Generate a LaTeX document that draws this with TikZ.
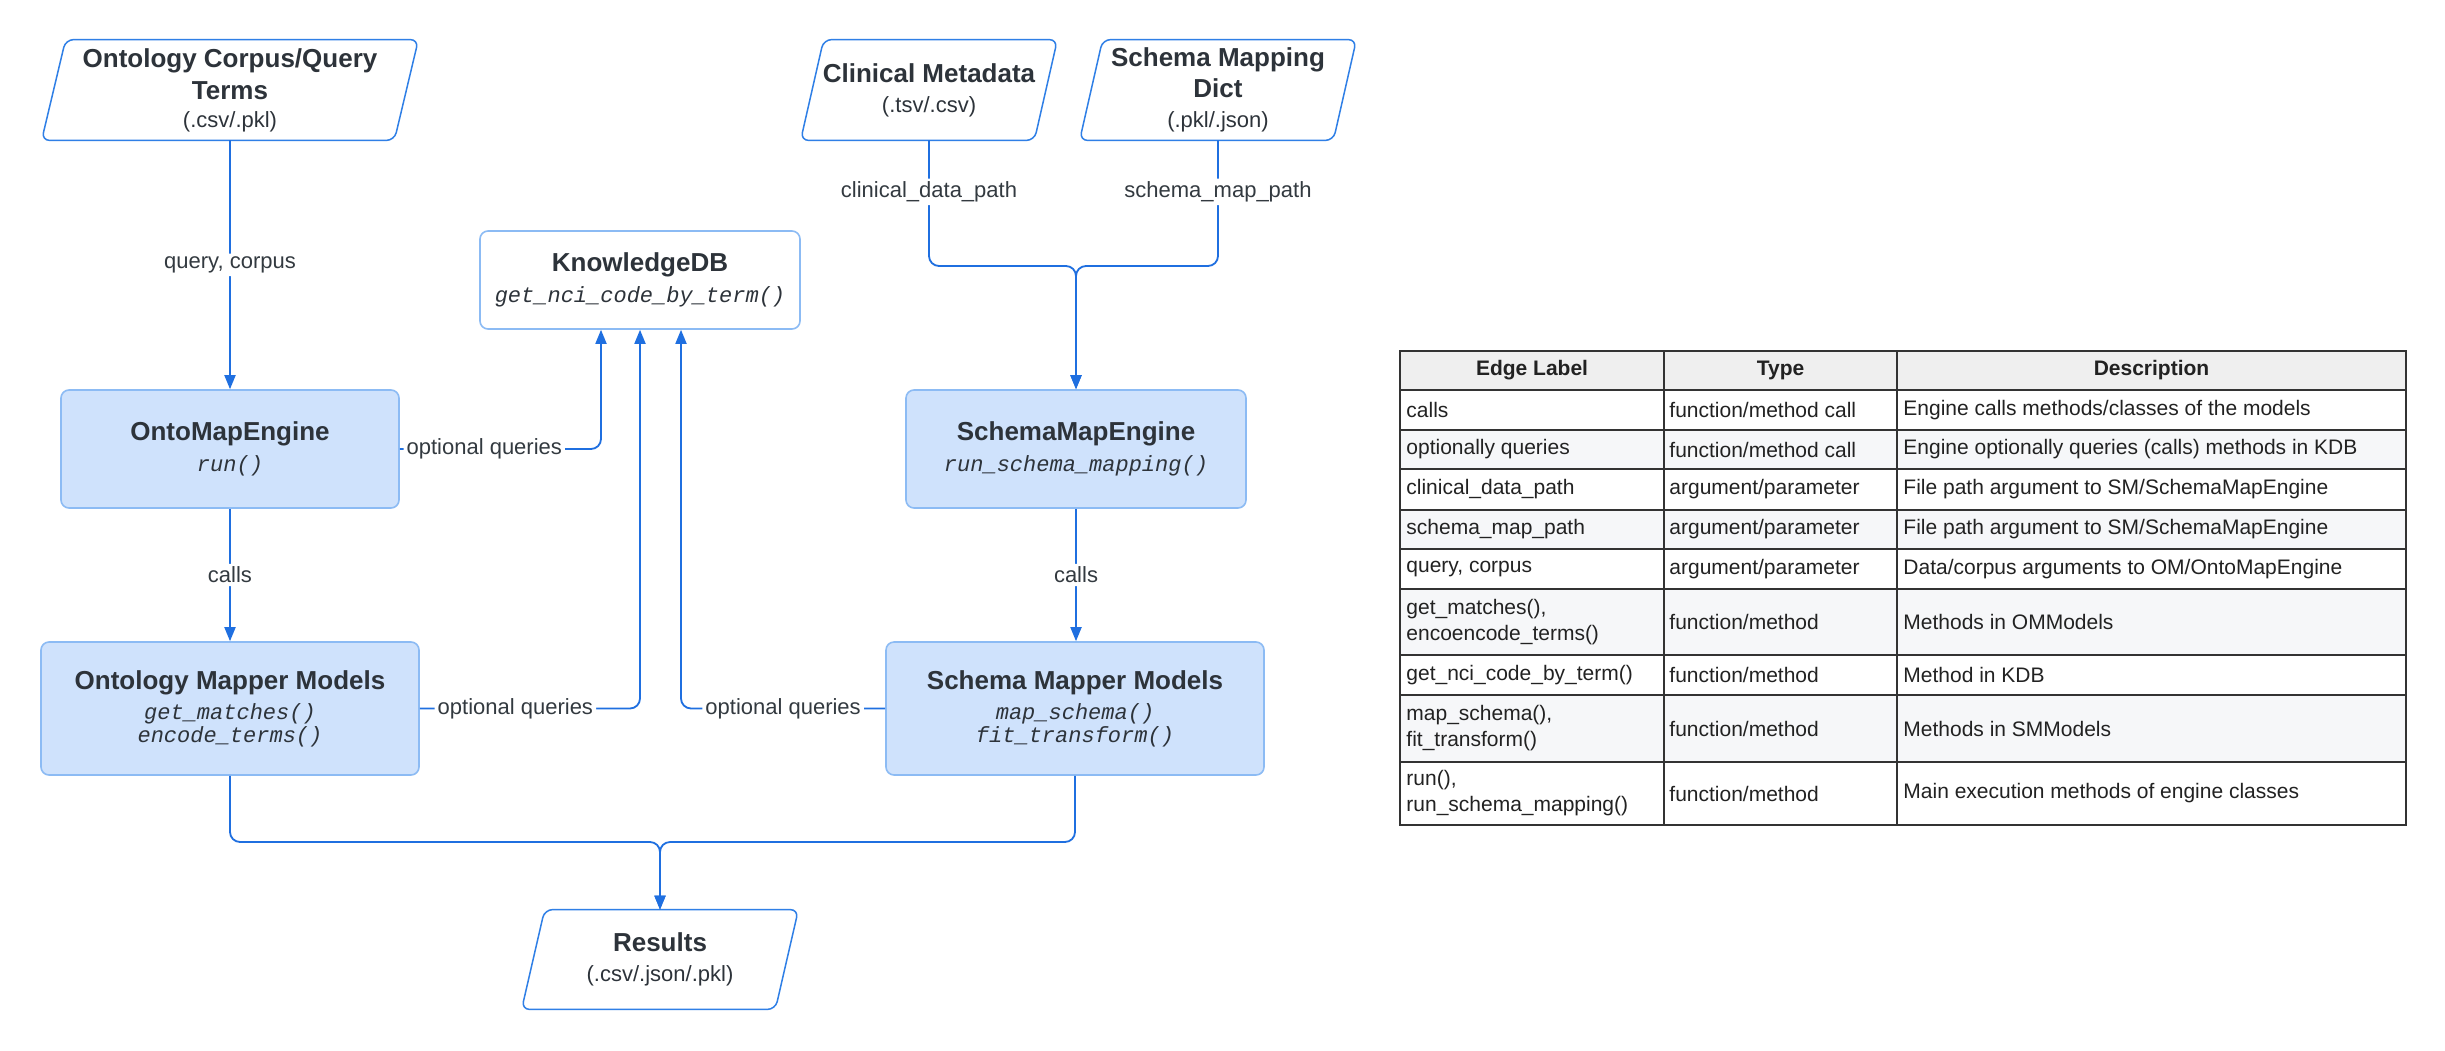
\documentclass[tikz,border=0pt]{standalone}
\usepackage{fontspec}
\setmainfont{Liberation Sans}
\setmonofont{Liberation Mono}
\usetikzlibrary{arrows.meta}
\definecolor{boxfill}{HTML}{CFE2FC}
\definecolor{boxline}{HTML}{8CBBF4}
\definecolor{paraline}{HTML}{2F7FE6}
\definecolor{conncol}{HTML}{1F6FE0}
\definecolor{txt}{HTML}{2D333A}
\definecolor{lbltxt}{HTML}{333A40}
\definecolor{tabtxt}{HTML}{222222}
\definecolor{hdrfill}{HTML}{EFEFEF}
\definecolor{altfill}{HTML}{F6F7F9}
\definecolor{gridcol}{HTML}{333333}
\newcommand{\ttlf}{\fontsize{13}{16}\selectfont\bfseries}
\newcommand{\mthf}{\fontsize{11}{12.5}\selectfont\ttfamily\itshape}
\newcommand{\sbtf}{\fontsize{11}{13}\selectfont}
\begin{document}
\begin{tikzpicture}[x=0.5pt,y=-0.5pt,
  proc/.style={draw=boxline, fill=boxfill, line width=0.8pt, rounded corners=4pt, align=center, inner sep=0pt, text=txt, font=\fontsize{11}{15}\selectfont},
  iobox/.style={inner sep=0pt, align=center, text=txt, font=\fontsize{11}{15}\selectfont},
  para/.style={draw=paraline, line width=0.75pt, rounded corners=4pt},
  conn/.style={draw=conncol, line width=0.9pt, rounded corners=5pt, -{Triangle[length=7pt,width=5.5pt]}},
  lbl/.style={fill=white, inner sep=1.5pt, text=lbltxt, font=\fontsize{11}{13}\selectfont},
  th/.style={font=\fontsize{10.5}{13}\selectfont\bfseries, text=tabtxt, inner sep=0pt},
  td/.style={font=\fontsize{10.5}{13}\selectfont, text=tabtxt, inner sep=0pt, anchor=west, align=left},
  gridline/.style={draw=gridcol, line width=0.7pt}
]
\useasboundingbox (0,0) rectangle (2445,1050);
\fill[white] (0,0) rectangle (2445,1050);

% input / output parallelograms
\node[iobox, minimum width=188pt, minimum height=50pt] (oc) at (230,90)
  {{\ttlf Ontology Corpus/Query}\\[1pt]{\ttlf Terms}\\[-1pt]{\sbtf (.csv/.pkl)}};
\node[iobox, minimum width=128pt, minimum height=50pt] (cm) at (929,90)
  {{\ttlf Clinical Metadata}\\{\sbtf (.tsv/.csv)}};
\node[iobox, minimum width=138pt, minimum height=50pt] (sd) at (1218,90)
  {{\ttlf Schema Mapping}\\[0.5pt]{\ttlf Dict}\\{\sbtf (.pkl/.json)}};
\node[iobox, minimum width=138pt, minimum height=49.5pt] (res) at (660,959.5)
  {{\ttlf Results}\\{\sbtf (.csv/.json/.pkl)}};
\foreach \n/\s in {oc/12pt, cm/11.5pt, sd/11.5pt, res/11.5pt}{
  \draw[para] ([xshift=\s]\n.north west) -- (\n.north east) -- ([xshift=-\s]\n.south east) -- (\n.south west) -- cycle;
}

% process boxes
\node[proc, minimum width=160pt, minimum height=49pt, fill=white] (kdb) at (640,280)
  {{\ttlf KnowledgeDB}\\[0.5pt]{\mthf get\_nci\_code\_by\_term()}};
\node[proc, minimum width=169pt, minimum height=59pt] (ome) at (230,449)
  {{\ttlf OntoMapEngine}\\[0.5pt]{\mthf run()}};
\node[proc, minimum width=170pt, minimum height=59pt] (sme) at (1076,449)
  {{\ttlf SchemaMapEngine}\\[0.5pt]{\mthf run\_schema\_mapping()}};
\node[proc, minimum width=189pt, minimum height=66.5pt] (omm) at (230,708.5)
  {{\ttlf Ontology Mapper Models}\\{\mthf get\_matches()}\\[-3.5pt]{\mthf encode\_terms()}};
\node[proc, minimum width=189pt, minimum height=66.5pt] (smm) at (1075,708.5)
  {{\ttlf Schema Mapper Models}\\{\mthf map\_schema()}\\[-3.5pt]{\mthf fit\_transform()}};

% helper coordinates
\coordinate (tj) at (1076,266);
\coordinate (mj) at (660,842);
\coordinate (k1) at ([xshift=-19.5pt]kdb.south);
\coordinate (k2) at (kdb.south);
\coordinate (k3) at ([xshift=20.5pt]kdb.south);

% connectors
\draw[conn] (oc.south) -- node[lbl]{query, corpus} (ome.north);
\draw[conn] (cm.south) -- node[lbl, pos=0.41]{clinical\_data\_path} (cm.south |- tj) -- (tj) -- (sme.north);
\draw[conn] (sd.south) -- node[lbl, pos=0.41]{schema\_map\_path} (sd.south |- tj) -- (tj) -- (sme.north);
\draw[conn] (ome.east) -| node[lbl, pos=0.21]{optional queries} (k1);
\draw[conn] (omm.east) -| node[lbl, pos=0.217]{optional queries} (k2);
\draw[conn] (smm.west) -| node[lbl, pos=0.25]{optional queries} (k3);
\draw[conn] (ome.south) -- node[lbl]{calls} (omm.north);
\draw[conn] (sme.south) -- node[lbl]{calls} (smm.north -| sme.south);
\draw[conn] (omm.south) -- (omm.south |- mj) -- (mj) -- (res.north);
\draw[conn] (smm.south) -- (smm.south |- mj) -- (mj) -- (res.north);

% table
\fill[hdrfill] (1400,351) rectangle (2406,390);
\fill[altfill] (1400,430) rectangle (2406,469);
\fill[altfill] (1400,510) rectangle (2406,549);
\fill[altfill] (1400,589) rectangle (2406,655);
\fill[altfill] (1400,695) rectangle (2406,762);
\foreach \yy in {390,430,469,510,549,589,655,695,762}{
  \draw[gridline] (1400,\yy) -- (2406,\yy);
}
\draw[gridline] (1664,351) -- (1664,825);
\draw[gridline] (1897,351) -- (1897,825);
\draw[gridline] (1400,351) rectangle (2406,825);

\node[th] (h1) at (1532,370.5) {Edge Label};
\node[th] (h2) at (1780.5,370.5) {Type};
\node[th] (h3) at (2151.5,370.5) {Description};

\node[td] (a1) at (1406,410) {calls};
\node[td] (b1) at (1669,410) {function/method call};
\node[td] (c1) at (1903,410) {Engine calls methods/classes of the models};
\node[td] (a2) at (1406,449.5) {optionally queries};
\node[td] (b2) at (1669,449.5) {function/method call};
\node[td] (c2) at (1903,449.5) {Engine optionally queries (calls) methods in KDB};
\node[td] (a3) at (1406,489.5) {clinical\_data\_path};
\node[td] (b3) at (1669,489.5) {argument/parameter};
\node[td] (c3) at (1903,489.5) {File path argument to SM/SchemaMapEngine};
\node[td] (a4) at (1406,529.5) {schema\_map\_path};
\node[td] (b4) at (1669,529.5) {argument/parameter};
\node[td] (c4) at (1903,529.5) {File path argument to SM/SchemaMapEngine};
\node[td] (a5) at (1406,569) {query, corpus};
\node[td] (b5) at (1669,569) {argument/parameter};
\node[td] (c5) at (1903,569) {Data/corpus arguments to OM/OntoMapEngine};
\node[td] (a6) at (1406,622) {get\_matches(),\\encoencode\_terms()};
\node[td] (b6) at (1669,622) {function/method};
\node[td] (c6) at (1903,622) {Methods in OMModels};
\node[td] (a7) at (1406,675) {get\_nci\_code\_by\_term()};
\node[td] (b7) at (1669,675) {function/method};
\node[td] (c7) at (1903,675) {Method in KDB};
\node[td] (a8) at (1406,728.5) {map\_schema(),\\fit\_transform()};
\node[td] (b8) at (1669,728.5) {function/method};
\node[td] (c8) at (1903,728.5) {Methods in SMModels};
\node[td] (a9) at (1406,793.5) {run(),\\run\_schema\_mapping()};
\node[td] (b9) at (1669,793.5) {function/method};
\node[td] (c9) at (1903,793.5) {Main execution methods of engine classes};
\end{tikzpicture}
\end{document}
